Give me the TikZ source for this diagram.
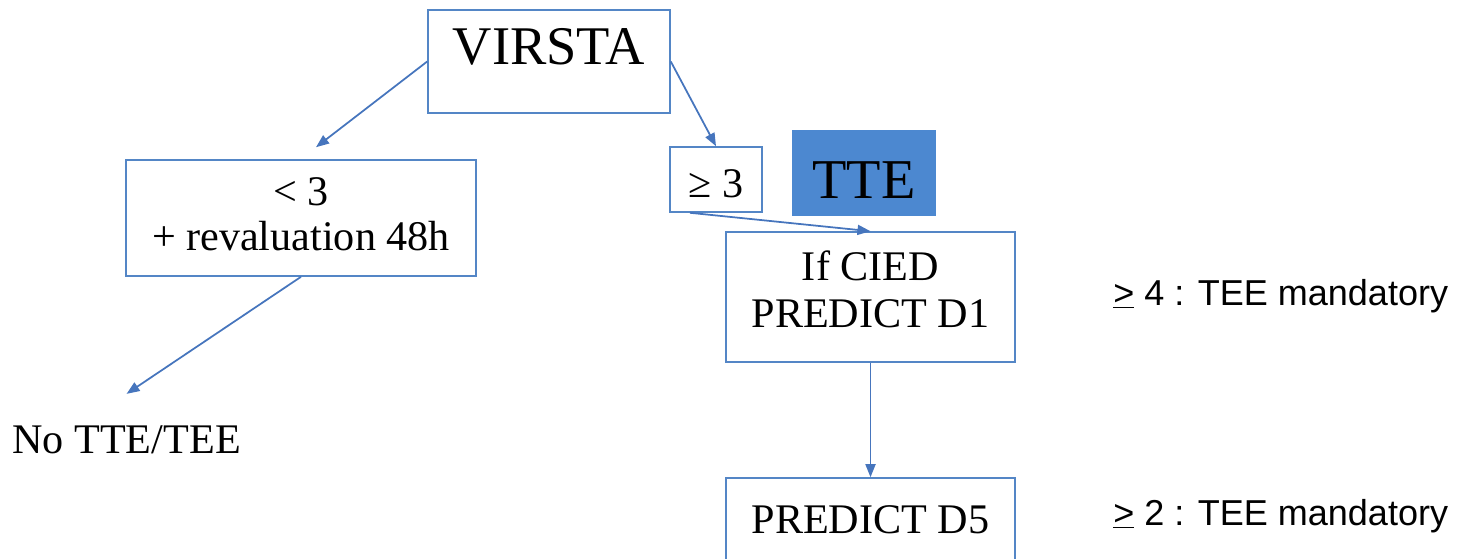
\documentclass[tikz,border=0pt]{standalone}
\usepackage{fontspec}
\setmainfont{Liberation Serif}
\newfontfamily\notefont{Liberation Sans}
\usetikzlibrary{arrows.meta}

\definecolor{boxblue}{RGB}{84,134,198}
\definecolor{arrowblue}{RGB}{70,117,189}
\definecolor{ttefill}{RGB}{76,136,208}

\tikzset{
    box/.style={draw=boxblue, line width=0.9pt, rectangle, inner sep=0pt,
        font=\fontsize{24}{26}\selectfont},
    flow/.style={draw=arrowblue, line width=1pt, -{Triangle[length=0.26cm, width=0.2cm]}},
    note/.style={anchor=base west, inner sep=0pt, font=\notefont\fontsize{20.5}{24}\selectfont}
}

\begin{document}
\begin{tikzpicture}
    \useasboundingbox (0,0) rectangle (29.24,-11.16);

    % Score
    \node[box, minimum width=4.84cm, minimum height=2.06cm, text height=0.8cm, text depth=0.7cm,
        font=\fontsize{31}{36}\selectfont] (virsta) at (10.98,-1.23) {VIRSTA};

    % Score below 3
    \node[box, minimum width=7cm, minimum height=2.32cm, text height=1.6cm, text depth=0.32cm,
        font=\fontsize{24}{25.6}\selectfont] (low) at (6.02,-4.36)
        {\begin{tabular}[b]{c} < 3 \\ + revaluation 48h \end{tabular}};

    % Score 3 or more
    \node[box, minimum width=1.84cm, minimum height=1.3cm, text height=0.7cm, text depth=0cm] (high) at (14.32,-3.59) {≥ 3};

    % Echo label
    \node[box, draw=ttefill, fill=ttefill, minimum width=2.84cm, minimum height=1.68cm, text height=1.1cm, text depth=0.1cm,
        font=\fontsize{32}{38}\selectfont] (tte) at (17.28,-3.46) {TTE};

    % Device branch
    \node[box, minimum width=5.78cm, minimum height=2.6cm, text height=1.5cm, text depth=0.3cm,
        font=\fontsize{24}{26.6}\selectfont] (cied) at (17.41,-5.94)
        {\begin{tabular}[b]{c} If CIED \\ PREDICT D1 \end{tabular}};

    \node[box, minimum width=5.78cm, minimum height=1.7cm, text height=0.6cm, text depth=0.1cm] (dfive) at (17.41,-10.41) {PREDICT D5};

    % Outcomes
    \node[anchor=base west, inner sep=0pt, font=\fontsize{24}{28}\selectfont] (notte) at (0.24,-9.06) {No TTE/TEE};
    \node[note] (teefour) at (22.26,-6.1) {\underline{>} 4 : TEE mandatory};
    \node[note] (teetwo) at (22.26,-10.5) {\underline{>} 2 : TEE mandatory};

    % Arrows
    \draw[flow] (virsta.west) -- ([xshift=0.3cm,yshift=0.24cm]low.north);
    \draw[flow] (virsta.east) -- (high.north);
    \draw[flow] ([xshift=-0.52cm]high.south) -- (cied.north);
    \draw[flow] (low.south) -- ([yshift=0.62cm]notte.north);
    \draw[flow] (cied.south) -- (dfive.north);
\end{tikzpicture}
\end{document}
